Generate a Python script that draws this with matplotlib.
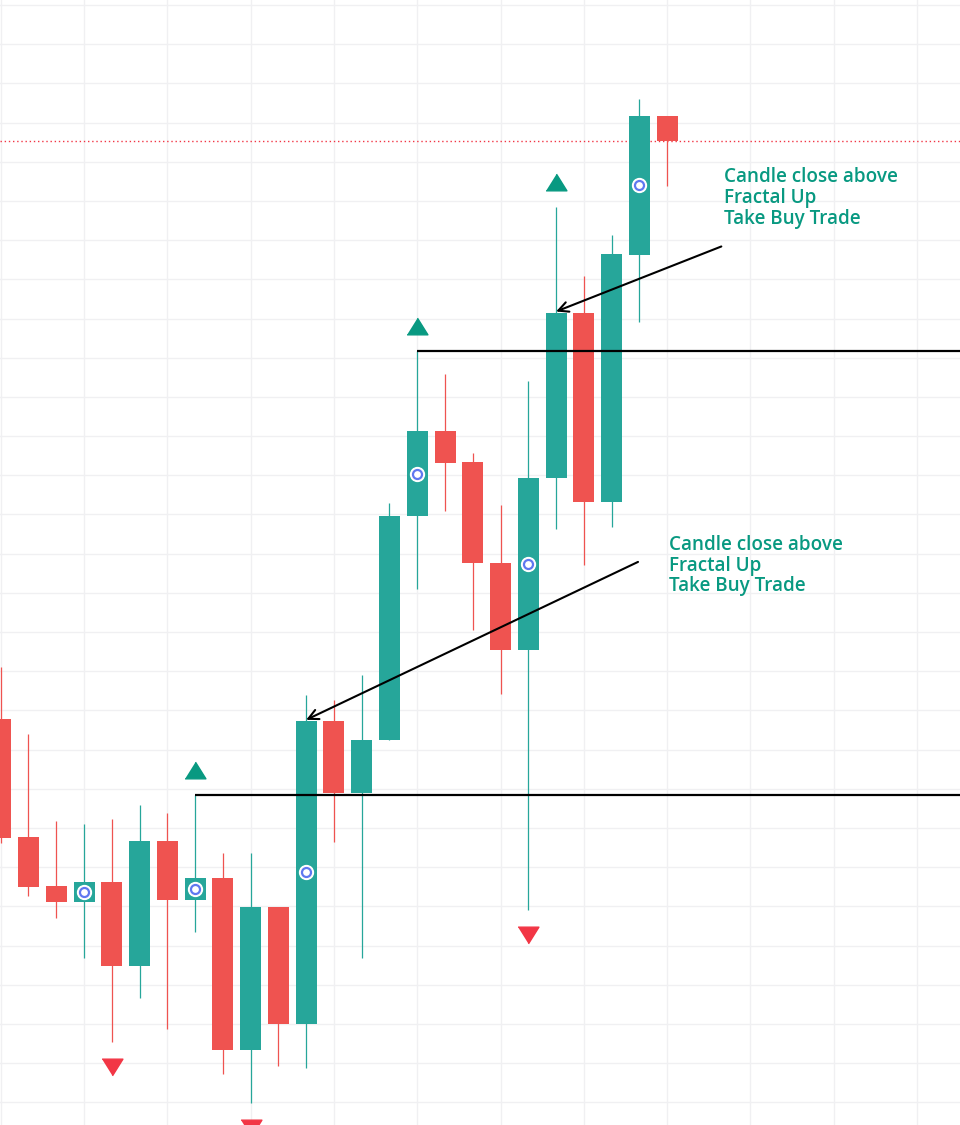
import numpy as np
import matplotlib.pyplot as plt

# свечи (условные цены)
opens = [197.8, 167.7, 155.2, 151.2, 156.2, 134.9, 166.7, 151.5, 157.2, 113.4,
         149.8, 120.1, 197.3, 179.0, 192.5, 249.5, 271.3, 263.4, 237.6, 215.5,
         259.2, 301.5, 253.3, 316.3, 351.7]
closes = [167.5, 155.0, 151.2, 156.2, 134.9, 166.7, 151.5, 157.2, 113.4, 149.8,
          120.1, 197.3, 179.0, 192.5, 249.6, 271.3, 263.2, 237.5, 215.5, 259.3,
          301.5, 253.3, 316.5, 351.7, 345.4]
highs = [211.1, 194.0, 171.8, 171.0, 172.3, 175.9, 173.8, 178.5, 163.7, 163.7,
         149.8, 204.0, 202.7, 209.1, 253.0, 291.8, 285.8, 265.7, 252.4, 284.1,
         328.5, 310.9, 321.4, 356.1, 351.7]
lows = [166.2, 152.7, 147.1, 136.7, 115.5, 126.7, 118.8, 143.5, 107.3, 99.9,
        109.3, 108.8, 166.3, 136.8, 192.5, 231.1, 251.0, 220.4, 204.2, 149.1,
        246.4, 237.1, 246.7, 299.2, 333.9]

fractal_up = [7, 15, 20]
fractal_down = [4, 9, 19]
dot_candles = [3, 7, 11, 15, 19, 23]

note_text = "Candle close above\nFractal Up\nTake Buy Trade"

GREEN = "#26a69a"
RED = "#ef5350"
TEAL = "#089981"
TRI_RED = "#f23645"

o = np.array(opens)
c = np.array(closes)
h = np.array(highs)
l = np.array(lows)
idx = np.arange(len(o))
up = c >= o
cols = np.where(up, GREEN, RED)

fig = plt.figure(figsize=(9.6, 11.25), dpi=100)
ax = fig.add_axes([0, 0, 1, 1])
ax.set_xlim(-0.025, 34.545)
ax.set_ylim(94.2, 381.3)

# сетка
ax.set_xticks(np.arange(0, 36, 3))
ax.set_yticks(np.arange(100, 390, 10))
ax.grid(True, color="#f0f0f2", lw=1)
ax.tick_params(length=0, labelbottom=False, labelleft=False)
for s in ax.spines.values():
    s.set_visible(False)
ax.set_axisbelow(True)

# свечи
ax.vlines(idx, l, h, colors=cols, lw=0.9, zorder=2)
ax.bar(idx, np.abs(c - o), bottom=np.minimum(o, c), width=0.756,
       color=cols, zorder=3)

# линия последней цены
ax.axhline(c[-1], color=TRI_RED, lw=1, ls=(0, (1, 2)), zorder=1)

# уровни фракталов
for i in [7, 15]:
    ax.hlines(h[i], i, 34.6, colors="black", lw=1.6, zorder=4)

# фракталы
tri_up = [(-1, -0.8), (1, -0.8), (0, 0.8)]
tri_dn = [(-1, 0.8), (1, 0.8), (0, -0.8)]
fu = np.array(fractal_up)
fd = np.array(fractal_down)
ax.plot(fu, h[fu] + 6.4, ls="none", marker=tri_up, ms=15, color=TEAL, zorder=5)
ax.plot(fd, l[fd] - 6.4, ls="none", marker=tri_dn, ms=15, color=TRI_RED, zorder=5)

# кружки
dc = np.array(dot_candles)
mid = (o[dc] + c[dc]) / 2
ax.plot(dc, mid, ls="none", marker="o", ms=10, mfc="white", mec="white", zorder=6)
ax.plot(dc, mid, ls="none", marker="o", ms=6.5, mfc="white", mec="#6078f0",
        mew=1.6, zorder=7)

# стрелки
arrow = dict(arrowstyle="->", color="black", lw=1.5, shrinkA=0, shrinkB=0,
             mutation_scale=18)
ax.annotate("", xy=(20, 301.8), xytext=(25.95, 318.4), arrowprops=arrow, zorder=8)
ax.annotate("", xy=(11, 197.6), xytext=(22.95, 237.9), arrowprops=arrow, zorder=8)

ax.text(26.05, 338.6, note_text, color=TEAL, fontsize=13.6, family="Open Sans",
        weight="semibold", va="top", ha="left", linespacing=1.05)
ax.text(24.07, 244.8, note_text, color=TEAL, fontsize=13.6, family="Open Sans",
        weight="semibold", va="top", ha="left", linespacing=1.05)

fig.savefig("out.png", dpi=100, facecolor="white")
